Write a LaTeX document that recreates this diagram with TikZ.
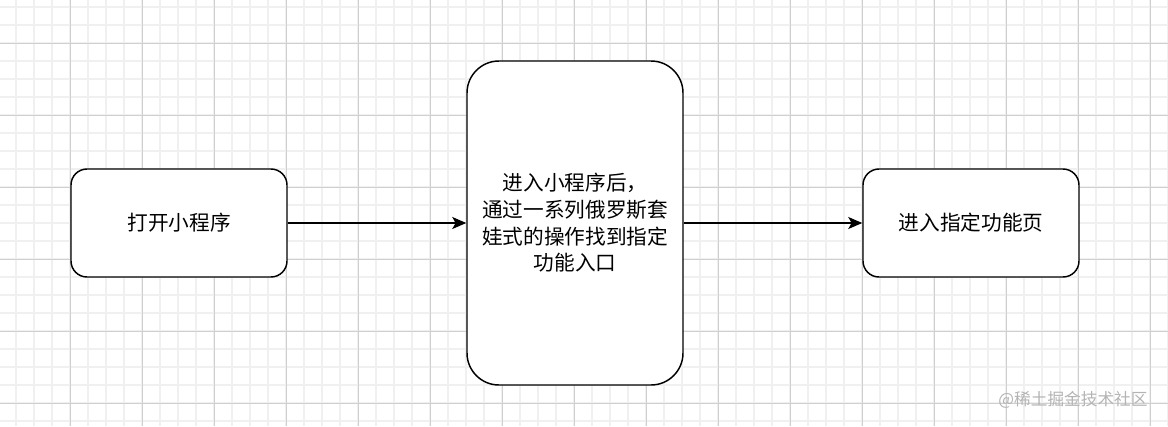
\documentclass[tikz,border=0pt]{standalone}
\usepackage{fontspec}
\newfontfamily\cjk{Noto Sans CJK SC}
\usetikzlibrary{arrows.meta}

\definecolor{gridminor}{HTML}{F0F0F0}
\definecolor{gridmajor}{HTML}{D0D0D0}
\definecolor{markgray}{HTML}{B4B4B4}

\tikzset{
  stepbox/.style={draw=black, line width=1.1pt, rounded corners=12pt, fill=white,
    minimum width=162pt, minimum height=81pt, align=center, inner sep=0pt,
    font=\cjk\fontsize{15.5}{20}\selectfont},
  flow/.style={draw=black, line width=1.1pt, -{Stealth[length=10.5pt,width=9pt,inset=2.5pt]}}
}

\begin{document}
\begin{tikzpicture}[line cap=butt,line join=round,x=0.75pt,y=0.75pt]
  \useasboundingbox (0,0) rectangle (1168,-426);
  \fill[white] (0,0) rectangle (1168,-426);

  % grid
  \foreach \gx in {16,34,...,1168} \draw[gridminor, line width=1.2pt] (\gx,0) -- (\gx,-426);
  \foreach \gy in {7,25,...,426} \draw[gridminor, line width=1.2pt] (0,-\gy) -- (1168,-\gy);
  \foreach \gx in {70,142,...,1168} \draw[gridmajor, line width=0.75pt] (\gx,0) -- (\gx,-426);
  \foreach \gy in {43,115,...,426} \draw[gridmajor, line width=0.75pt] (0,-\gy) -- (1168,-\gy);

  % boxes
  \node[stepbox] (open) at (179,-223) {打开小程序};
  \node[stepbox, minimum height=243pt, rounded corners=24pt] (nest) at (575,-223)
    {进入小程序后，\\通过一系列俄罗斯套\\娃式的操作找到指定\\功能入口};
  \node[stepbox] (page) at (971,-223) {进入指定功能页};

  % arrows
  \draw[flow] (open.east) -- (nest.west);
  \draw[flow] (nest.east) -- (page.west);

  % watermark
  \node[text=markgray, font=\cjk\fontsize{12.5}{14}\selectfont, inner sep=0pt] (mark) at (1073,-400) {@稀土掘金技术社区};
\end{tikzpicture}
\end{document}
